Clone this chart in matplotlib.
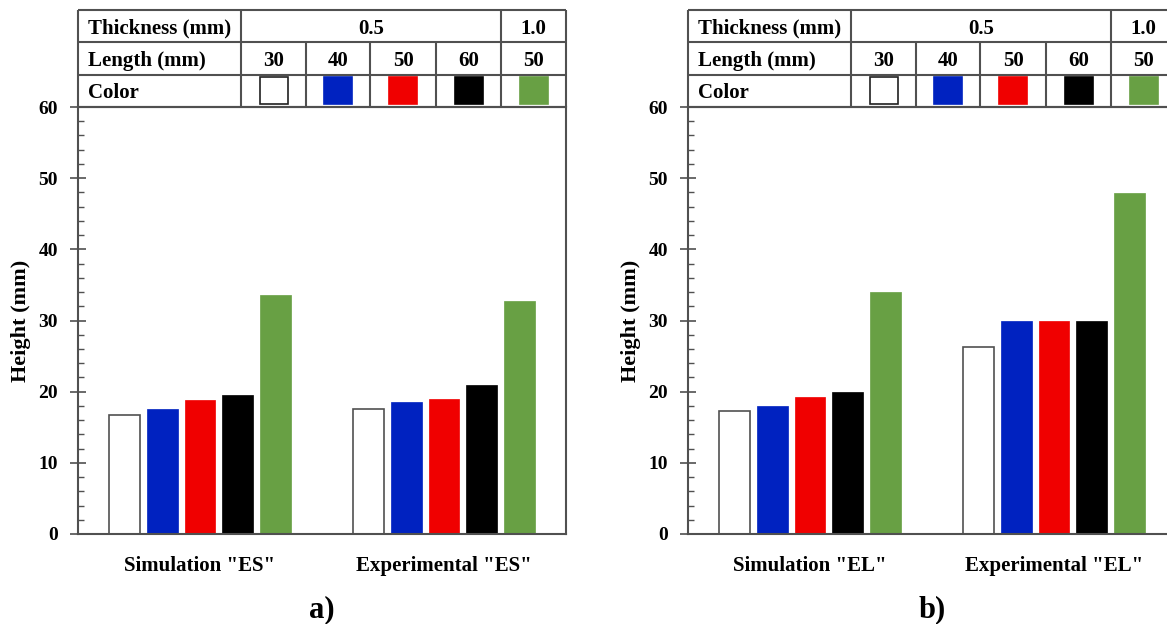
import numpy as np
import matplotlib
matplotlib.use('Agg')
import matplotlib.pyplot as plt
from matplotlib.patches import Rectangle

plt.rcParams['font.family'] = 'Liberation Serif'
plt.rcParams['font.weight'] = 'bold'

# data
lengths = ['30', '40', '50', '60', '50']
thickness = ['0.5', '1.0']
bar_colors = ['#ffffff', '#0022c0', '#f00000', '#000000', '#68a044']

groups_a = ['Simulation "ES"', 'Experimental "ES"']
heights_a = [[16.7, 17.6, 18.8, 19.5, 33.6],
             [17.5, 18.5, 19.0, 20.9, 32.7]]

groups_b = ['Simulation "EL"', 'Experimental "EL"']
heights_b = [[17.3, 18.0, 19.2, 20.0, 34.0],
             [26.3, 30.0, 30.0, 30.0, 47.9]]

W, H = 1167, 624
fig = plt.figure(figsize=(W / 100, H / 100), dpi=100)

line_col = '#505050'


def draw_panel(x0, groups, heights, tag):
    # main bar axes (pixel layout converted to figure fractions)
    ax = fig.add_axes([x0 / W, (H - 534) / H, 488 / W, 427 / H])
    step = 0.155
    width = 0.127
    centers = np.array([0.5, 1.5])
    for i, c in enumerate(bar_colors):
        vals = [heights[g][i] for g in range(len(groups))]
        ec = line_col if c == '#ffffff' else c
        ax.bar(centers + (i - 2) * step, vals, width=width, color=c,
               edgecolor=ec, linewidth=1.2 if c == '#ffffff' else 0.5, zorder=2)
    ax.set_xlim(0, 2)
    ax.set_ylim(0, 60)
    ax.set_yticks(np.arange(0, 61, 10))
    ax.set_yticks(np.arange(0, 61, 2), minor=True)
    ax.set_xticks(centers)
    ax.set_xticklabels(groups, fontsize=15, fontweight='bold')
    ax.tick_params(axis='x', length=0, pad=16)
    ax.tick_params(axis='y', which='major', direction='inout', length=11,
                   width=1.2, color=line_col, labelsize=14, pad=9)
    ax.tick_params(axis='y', which='minor', direction='in', length=4,
                   width=1.0, color=line_col)
    for s in ax.spines.values():
        s.set_color(line_col)
        s.set_linewidth(1.5)
    ax.set_ylabel('Height (mm)', fontsize=16, fontweight='bold')
    ax.yaxis.set_label_coords(-0.096, 0.5)
    fig.text((x0 + 244) / W, (H - 610) / H, tag, fontsize=22,
             fontweight='bold', ha='center', va='center')

    # table above the axes
    tb = fig.add_axes([x0 / W, (H - 107) / H, 488 / W, 97 / H])
    tb.set_xlim(0, 488)
    tb.set_ylim(0, 3)
    tb.axis('off')
    edges = [0, 163, 228, 292, 358, 423, 488]
    lk = dict(color=line_col, lw=1.5, solid_capstyle='butt', clip_on=False)
    for yy in [0, 1, 2, 3]:
        tb.plot([0, 488], [yy, yy], **lk)
    for xx in [0, 163, 423, 488]:
        tb.plot([xx, xx], [0, 3], **lk)
    for xx in [228, 292, 358]:
        tb.plot([xx, xx], [0, 2], **lk)
    fs = 15
    ty = [2.42, 1.42, 0.42]
    tb.text(10, ty[0], 'Thickness (mm)', fontsize=fs, va='center', ha='left')
    tb.text(10, ty[1], 'Length (mm)', fontsize=fs, va='center', ha='left')
    tb.text(10, ty[2], 'Color', fontsize=fs, va='center', ha='left')
    tb.text((163 + 423) / 2, ty[0], thickness[0], fontsize=fs, va='center', ha='center')
    tb.text((423 + 488) / 2, ty[0], thickness[1], fontsize=fs, va='center', ha='center')
    for i in range(5):
        cx = (edges[i + 1] + edges[i + 2]) / 2
        tb.text(cx, ty[1], lengths[i], fontsize=fs, va='center', ha='center')
        ec = '#202020' if bar_colors[i] == '#ffffff' else bar_colors[i]
        tb.add_patch(Rectangle((cx - 14, 0.08), 28, 0.84, facecolor=bar_colors[i],
                               edgecolor=ec, lw=1.2, clip_on=False))


draw_panel(78, groups_a, heights_a, 'a)')
draw_panel(688, groups_b, heights_b, 'b)')

fig.savefig('out.png', dpi=100)
